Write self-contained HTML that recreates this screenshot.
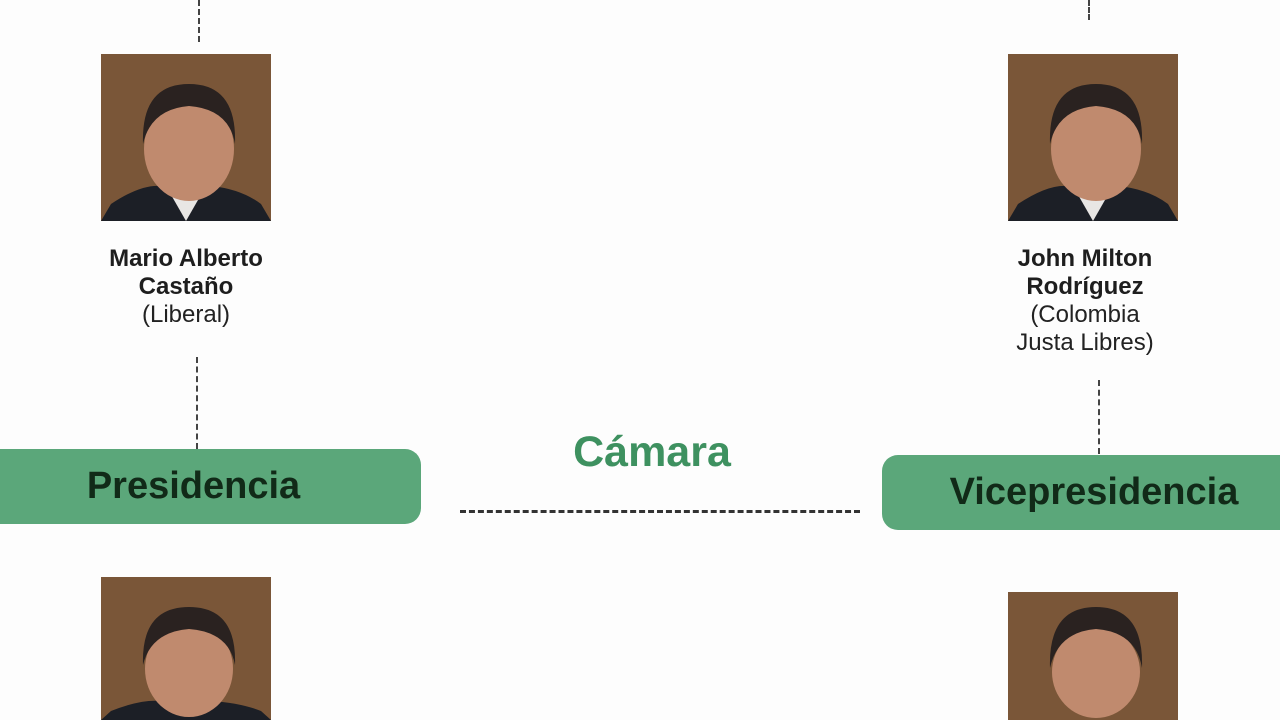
<!DOCTYPE html>
<html style="overflow:hidden"><head><meta charset="utf-8"><style>
html,body{margin:0;width:1280px;height:720px;overflow:hidden}
body{background:#fdfdfd;position:relative;font-family:"Liberation Sans",sans-serif}
.s{position:absolute;display:block;width:170px}
.t{position:absolute;text-align:center;color:#222;font-size:24px;line-height:28px;width:260px}
.t b{font-weight:bold;color:#1e1e1e}
.pill{position:absolute;background:#5ba77a;border-radius:16px;color:#112a18;font-weight:bold;font-size:38px;display:flex;align-items:center;justify-content:center}
.v{position:absolute;border-left:2px dashed #444;width:0}
</style></head><body>
<svg width="0" height="0" style="position:absolute;top:0;left:0"><defs>
<g id="face">
<rect width="170" height="167" fill="#7a5638"/>
<path d="M0 167 L10 150 Q40 130 60 132 L110 132 Q140 135 160 150 L170 167Z" fill="#1c1f26"/>
<path d="M65 132 L85 167 L105 132Z" fill="#e8e6e4"/>
<ellipse cx="88" cy="95" rx="45" ry="52" fill="#c08a6e"/>
<path d="M42 90 Q40 30 88 30 Q136 30 134 90 Q128 55 88 52 Q50 55 42 90Z" fill="#2a2220"/>
</g></defs></svg>
<svg class="s" style="left:101px;top:54px" height="167" viewBox="0 0 170 167"><use href="#face"/></svg>
<svg class="s" style="left:1008px;top:54px" height="167" viewBox="0 0 170 167"><use href="#face"/></svg>
<svg class="s" style="left:101px;top:577px" height="143" viewBox="0 0 170 143">
<rect width="170" height="143" fill="#7a5638"/>
<path d="M0 143 L10 134 Q40 122 60 124 L110 124 Q140 126 160 134 L170 143Z" fill="#1c1f26"/>
<ellipse cx="88" cy="92" rx="44" ry="48" fill="#c08a6e"/>
<path d="M42 88 Q40 30 88 30 Q136 30 134 88 Q128 55 88 52 Q50 55 42 88Z" fill="#2a2220"/>
</svg>
<svg class="s" style="left:1008px;top:592px" height="128" viewBox="0 0 170 128">
<rect width="170" height="128" fill="#7a5638"/>
<ellipse cx="88" cy="80" rx="44" ry="46" fill="#c08a6e"/>
<path d="M42 76 Q40 15 88 15 Q136 15 134 76 Q128 40 88 37 Q50 40 42 76Z" fill="#2a2220"/>
</svg>
<div class="v" style="left:198px;top:0;height:42px"></div>
<div class="v" style="left:1088px;top:0;height:20px"></div>
<div class="v" style="left:196px;top:357px;height:92px"></div>
<div class="v" style="left:1098px;top:380px;height:74px"></div>
<div class="t" style="left:56px;top:245px"><b>Mario Alberto<br>Castaño</b><br>(Liberal)</div>
<div class="t" style="left:955px;top:245px"><b>John Milton<br>Rodríguez</b><br>(Colombia<br>Justa Libres)</div>
<div class="pill" style="left:0;top:449px;width:421px;height:75px;border-radius:0 16px 16px 0"><span style="margin-left:-34px">Presidencia</span></div>
<div class="pill" style="left:882px;top:455px;width:398px;height:75px;border-radius:16px 0 0 16px"><span style="margin-left:26px">Vicepresidencia</span></div>
<div style="position:absolute;left:560px;top:428px;width:184px;text-align:center;color:#3e9160;font-weight:bold;font-size:43px">Cámara</div>
<div style="position:absolute;left:460px;top:510px;width:400px;border-top:3px dashed #333"></div>
</body></html>
